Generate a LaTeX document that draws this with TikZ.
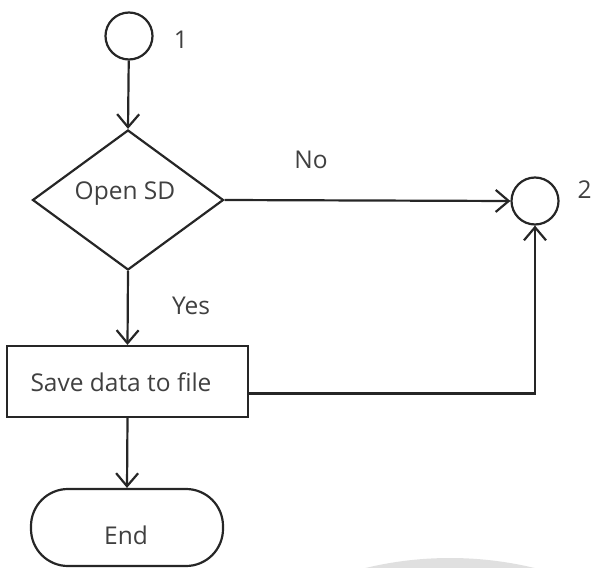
\documentclass[tikz,border=0pt]{standalone}
\usepackage{fontspec}
\setmainfont{Open Sans}
\usetikzlibrary{shapes.geometric,arrows.meta}
\tikzset{
  box/.style={draw=black!85, line width=2.2pt, inner sep=0pt, text=black!75, font=\fontsize{24.5}{28}\selectfont},
  connector/.style={box, circle, minimum size=47pt},
  decision/.style={box, diamond, minimum width=191pt, minimum height=140pt},
  process/.style={box, rectangle, minimum width=241pt, minimum height=71pt},
  terminal/.style={box, rectangle, rounded corners=37pt, minimum width=192pt, minimum height=77pt},
  lbl/.style={text=black!75, font=\fontsize{24.5}{28}\selectfont},
  flow/.style={draw=black!85, line width=2.2pt,
    -{Straight Barb[length=13pt,width=22pt,line width=2.2pt]}},
}
\begin{document}
\begin{tikzpicture}[x=1pt,y=-1pt]
\useasboundingbox (0,0) rectangle (591,567);
% faint watermark arc along the lower edge
\begin{scope}
  \clip (0,0) rectangle (591,567);
  \fill[black!12] (450,918) circle (360pt);
\end{scope}

\node[connector] (c1) at (129,36) {};
\node[lbl] (n1) at (181,40) {1};
\node[decision] (dec) at (128,200) {};
\node[lbl] (tdec) at (125,194) {Open SD};
\node[connector] (c2) at (535,201) {};
\node[lbl, anchor=west] (n2) at (574,190) {2};
\node[lbl] (no) at (311,160) {No};
\node[lbl] (yes) at (191,306) {Yes};
\node[process] (save) at (127.5,381.5) {};
\node[lbl] (tsave) at (121,382) {Save data to file};
\node[terminal] (end) at (127,527.5) {};
\node[lbl] (tend) at (126,535) {End};

\draw[flow] (c1) -- (dec.north);
\draw[flow] (dec.east) -- (c2.west);
\draw[flow] (dec.south) -- (save.north);
\draw[flow] ([yshift=-12pt]save.east) -| (c2.south);
\draw[flow] (save.south) -- (end.north);
\end{tikzpicture}
\end{document}
